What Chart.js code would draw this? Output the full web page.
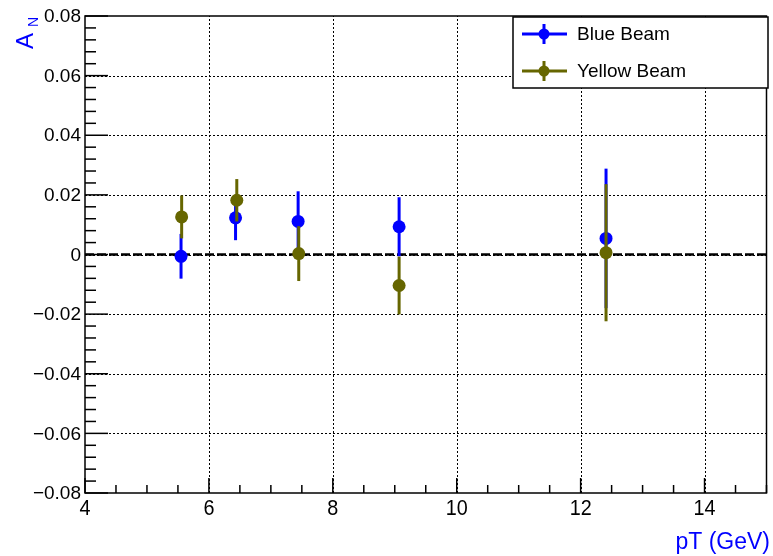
<!DOCTYPE html>
<html>
<head>
<meta charset="utf-8">
<script src="https://cdn.jsdelivr.net/npm/chart.js@4/dist/chart.umd.min.js"></script>
<style>
  html, body { margin: 0; padding: 0; background: #fff; }
  #wrap { width: 773px; height: 556px; }
</style>
</head>
<body>
<div id="wrap"><canvas id="chart" width="773" height="556"></canvas></div>
<script>
// Data
const blueX = [5.55, 6.43, 7.44, 9.07, 12.41];
const blueY = [-0.0006, 0.0123, 0.0111, 0.0093, 0.0054];
const blueErr = [0.0075, 0.0075, 0.0101, 0.0099, 0.0234];

const yellowX = [5.56, 6.45, 7.45, 9.07, 12.41];
const yellowY = [0.0126, 0.0182, 0.0003, -0.0104, 0.0006];
const yellowErr = [0.0072, 0.0071, 0.0092, 0.0097, 0.023];

const seriesNames = ['Blue Beam', 'Yellow Beam'];
const seriesColors = ['#0000ff', '#666600'];

const xTicks = [4, 6, 8, 10, 12, 14];
const yTicks = [0.08, 0.06, 0.04, 0.02, 0, -0.02, -0.04, -0.06, -0.08];
const yTickLabels = ['0.08', '0.06', '0.04', '0.02', '0', '\u22120.02', '\u22120.04', '\u22120.06', '\u22120.08'];

const errors = [blueErr, yellowErr];
const FONT = '"Liberation Sans", Arial, sans-serif';

function toPoints(xs, ys) {
  return xs.map((x, i) => ({ x: x, y: ys[i] }));
}

// Frame, grid, ticks, labels, zero line
const axesPlugin = {
  id: 'rootAxes',
  beforeDatasetsDraw(chart) {
    const { ctx, chartArea: a, scales: { x, y } } = chart;
    ctx.save();

    // dotted grid
    ctx.strokeStyle = '#000';
    ctx.lineWidth = 1;
    ctx.setLineDash([2, 2]);
    xTicks.forEach(v => {
      if (v === x.min) return;
      const px = Math.round(x.getPixelForValue(v)) + 0.5;
      ctx.beginPath(); ctx.moveTo(px, a.bottom); ctx.lineTo(px, a.top); ctx.stroke();
    });
    yTicks.forEach(v => {
      if (v === y.min || v === y.max) return;
      const py = Math.round(y.getPixelForValue(v)) + 0.5;
      ctx.beginPath(); ctx.moveTo(a.left, py); ctx.lineTo(a.right, py); ctx.stroke();
    });

    // dashed zero line
    ctx.setLineDash([9, 3]);
    ctx.lineWidth = 2.5;
    const zy = y.getPixelForValue(0);
    ctx.beginPath(); ctx.moveTo(a.left, zy); ctx.lineTo(a.right, zy); ctx.stroke();
    ctx.setLineDash([]);

    // ticks
    ctx.lineWidth = 1.5;
    for (let v = x.min; v <= x.max + 1e-9; v += 0.5) {
      const px = x.getPixelForValue(v);
      const major = Math.abs(v % 2) < 1e-9;
      ctx.beginPath(); ctx.moveTo(px, a.bottom); ctx.lineTo(px, a.bottom - (major ? 15 : 8)); ctx.stroke();
    }
    for (let i = 0; i <= 40; i++) {
      const v = y.min + i * 0.004;
      const py = y.getPixelForValue(v);
      const major = i % 5 === 0;
      ctx.beginPath(); ctx.moveTo(a.left, py); ctx.lineTo(a.left + (major ? 23 : 11), py); ctx.stroke();
    }

    // frame
    ctx.lineWidth = 1.5;
    ctx.strokeRect(a.left, a.top, a.right - a.left, a.bottom - a.top);

    // tick labels
    ctx.fillStyle = '#000';
    ctx.font = '19px ' + FONT;
    ctx.textAlign = 'right';
    ctx.textBaseline = 'middle';
    yTicks.forEach((v, i) => {
      ctx.fillText(yTickLabels[i], a.left - 4, y.getPixelForValue(v) + 1);
    });
    ctx.font = '22px ' + FONT;
    ctx.textAlign = 'center';
    ctx.textBaseline = 'top';
    xTicks.forEach(v => {
      const s = String(v);
      ctx.fillText(s, x.getPixelForValue(v), a.bottom + 5, s.length * 11);
    });

    // axis titles
    ctx.fillStyle = '#0000ff';
    ctx.font = '23px ' + FONT;
    ctx.textAlign = 'right';
    ctx.textBaseline = 'alphabetic';
    ctx.fillText('pT (GeV)', 770, 549, 112);

    ctx.save();
    ctx.translate(33, 0);
    ctx.rotate(-Math.PI / 2);
    ctx.textAlign = 'right';
    ctx.font = '24px ' + FONT;
    ctx.fillText('A', -33, 0, 16);
    ctx.font = '14px ' + FONT;
    ctx.fillText('N', -17, 5, 11);
    ctx.restore();
    ctx.restore();
  },
  beforeDatasetDraw(chart, args) {
    const { ctx, scales: { x, y } } = chart;
    const ds = chart.data.datasets[args.index];
    const err = errors[args.index];
    ctx.save();
    ctx.strokeStyle = ds.borderColor;
    ctx.lineWidth = 3;
    ds.data.forEach((p, i) => {
      const px = x.getPixelForValue(p.x);
      ctx.beginPath();
      ctx.moveTo(px, y.getPixelForValue(p.y - err[i]));
      ctx.lineTo(px, y.getPixelForValue(p.y + err[i]));
      ctx.stroke();
    });
    ctx.restore();
  },
  afterDraw(chart) {
    const { ctx } = chart;
    // legend box
    const bx = 513, by = 17, bw = 255, bh = 71;
    ctx.save();
    ctx.fillStyle = '#fff';
    ctx.fillRect(bx, by, bw, bh);
    ctx.strokeStyle = '#000';
    ctx.lineWidth = 1.5;
    ctx.strokeRect(bx, by, bw, bh);
    const rows = [34, 71];
    seriesNames.forEach((name, i) => {
      const cy = rows[i];
      ctx.strokeStyle = seriesColors[i];
      ctx.fillStyle = seriesColors[i];
      ctx.lineWidth = 3;
      ctx.beginPath(); ctx.moveTo(522, cy); ctx.lineTo(567, cy); ctx.stroke();
      ctx.beginPath(); ctx.moveTo(544, cy - 10); ctx.lineTo(544, cy + 10); ctx.stroke();
      ctx.beginPath(); ctx.arc(544, cy, 5.5, 0, Math.PI * 2); ctx.fill();
      ctx.fillStyle = '#000';
      ctx.font = '19px ' + FONT;
      ctx.textAlign = 'left';
      ctx.textBaseline = 'middle';
      ctx.fillText(name, 577, cy + 1);
    });
    ctx.restore();
  }
};

const chart = new Chart(document.getElementById('chart'), {
  type: 'scatter',
  data: {
    datasets: [
      {
        label: seriesNames[0],
        data: toPoints(blueX, blueY),
        backgroundColor: seriesColors[0],
        borderColor: seriesColors[0],
        pointRadius: 6.5,
        pointBorderWidth: 0,
        order: 1
      },
      {
        label: seriesNames[1],
        data: toPoints(yellowX, yellowY),
        backgroundColor: seriesColors[1],
        borderColor: seriesColors[1],
        pointRadius: 6.5,
        pointBorderWidth: 0,
        order: 0
      }
    ]
  },
  options: {
    responsive: false,
    animation: false,
    layout: { padding: { left: 85, right: 5, top: 16, bottom: 63 } },
    plugins: { legend: { display: false }, tooltip: { enabled: false } },
    scales: {
      x: { type: 'linear', min: 4, max: 15, display: false },
      y: { type: 'linear', min: -0.08, max: 0.08, display: false }
    }
  },
  plugins: [axesPlugin]
});
</script>
</body>
</html>
